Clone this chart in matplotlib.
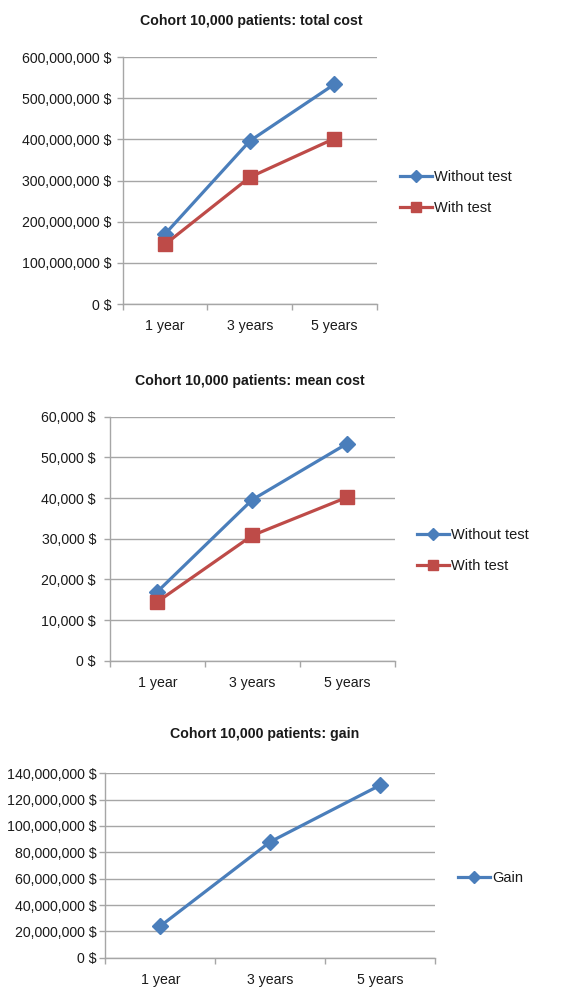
import matplotlib
matplotlib.use("Agg")
import matplotlib.pyplot as plt
from matplotlib.ticker import FuncFormatter

plt.rcParams['font.family'] = ['Liberation Sans', 'DejaVu Sans']

categories = ["1 year", "3 years", "5 years"]
total_without = [170e6, 396e6, 534e6]
total_with = [145e6, 308e6, 402e6]
mean_without = [17000, 39600, 53400]
mean_with = [14500, 30800, 40200]
gain = [24e6, 88e6, 131e6]

BLUE = "#4A7EBB"
RED = "#BE4B48"
GRID = "#A6A6A6"
TXT = "#1a1a1a"
FS = 10.2

fig = plt.figure(figsize=(5.87, 9.9), dpi=100)

def fmt(v, pos):
    return "{:,.0f} $".format(v)

def style(ax, ymax, ystep, ypad=5):
    ax.set_xlim(0, 3)
    ax.set_ylim(0, ymax)
    ax.set_yticks([i * ystep for i in range(int(round(ymax / ystep)) + 1)])
    ax.yaxis.set_major_formatter(FuncFormatter(fmt))
    ax.set_xticks([0.5, 1.5, 2.5])
    ax.set_xticklabels(categories)
    ax.set_xticks([0, 1, 2, 3], minor=True)
    ax.tick_params(axis='x', which='major', length=0, pad=11, labelsize=FS, labelcolor=TXT)
    ax.tick_params(axis='x', which='minor', length=4, color=GRID, width=1)
    ax.tick_params(axis='y', length=4, color=GRID, width=1, pad=ypad, labelsize=FS, labelcolor=TXT)
    ax.grid(axis='y', color=GRID, lw=1)
    ax.set_axisbelow(True)
    for s in ['top', 'right']:
        ax.spines[s].set_visible(False)
    for s in ['left', 'bottom']:
        ax.spines[s].set_color(GRID)
        ax.spines[s].set_linewidth(1)

x = [0.5, 1.5, 2.5]

def legend(ax, bx, by):
    ax.legend(loc='center left', bbox_to_anchor=(bx, by), frameon=False,
              borderpad=0, borderaxespad=0, handlelength=2.2, handletextpad=0.15,
              labelspacing=1.15, fontsize=FS + 0.3, labelcolor=TXT, markerscale=0.75)

DMS = 8.5
SMS = 10.5
LW = 2.3

# Chart 1
ax1 = fig.add_axes([0.209, 0.6929, 0.433, 0.2495])
ax1.plot(x, total_without, color=BLUE, lw=LW, marker='D', ms=DMS, label="Without test")
ax1.plot(x, total_with, color=RED, lw=LW, marker='s', ms=SMS, label="With test")
style(ax1, 600e6, 100e6, ypad=4)
legend(ax1, 1.09, 0.451)
fig.text(251.5 / 587, 1 - 21 / 990, "Cohort 10,000 patients: total cost", ha='center', va='center',
         fontsize=FS, fontweight='bold', color=TXT)

# Chart 2
ax2 = fig.add_axes([0.1874, 0.3326, 0.485, 0.2465])
ax2.plot(x, mean_without, color=BLUE, lw=LW, marker='D', ms=DMS, label="Without test")
ax2.plot(x, mean_with, color=RED, lw=LW, marker='s', ms=SMS, label="With test")
style(ax2, 60000, 10000, ypad=6)
legend(ax2, 1.078, 0.451)
fig.text(249.5 / 587, 1 - 380.7 / 990, "Cohort 10,000 patients: mean cost", ha='center', va='center',
         fontsize=FS, fontweight='bold', color=TXT)

# Chart 3
ax3 = fig.add_axes([0.1794, 0.0326, 0.562, 0.1863])
ax3.plot(x, gain, color=BLUE, lw=LW, marker='D', ms=DMS, label="Gain")
style(ax3, 140e6, 20e6, ypad=2.5)
legend(ax3, 1.069, 0.43)
fig.text(265 / 587, 1 - 734 / 990, "Cohort 10,000 patients: gain", ha='center', va='center',
         fontsize=FS, fontweight='bold', color=TXT)

fig.savefig("out.png", dpi=100)
